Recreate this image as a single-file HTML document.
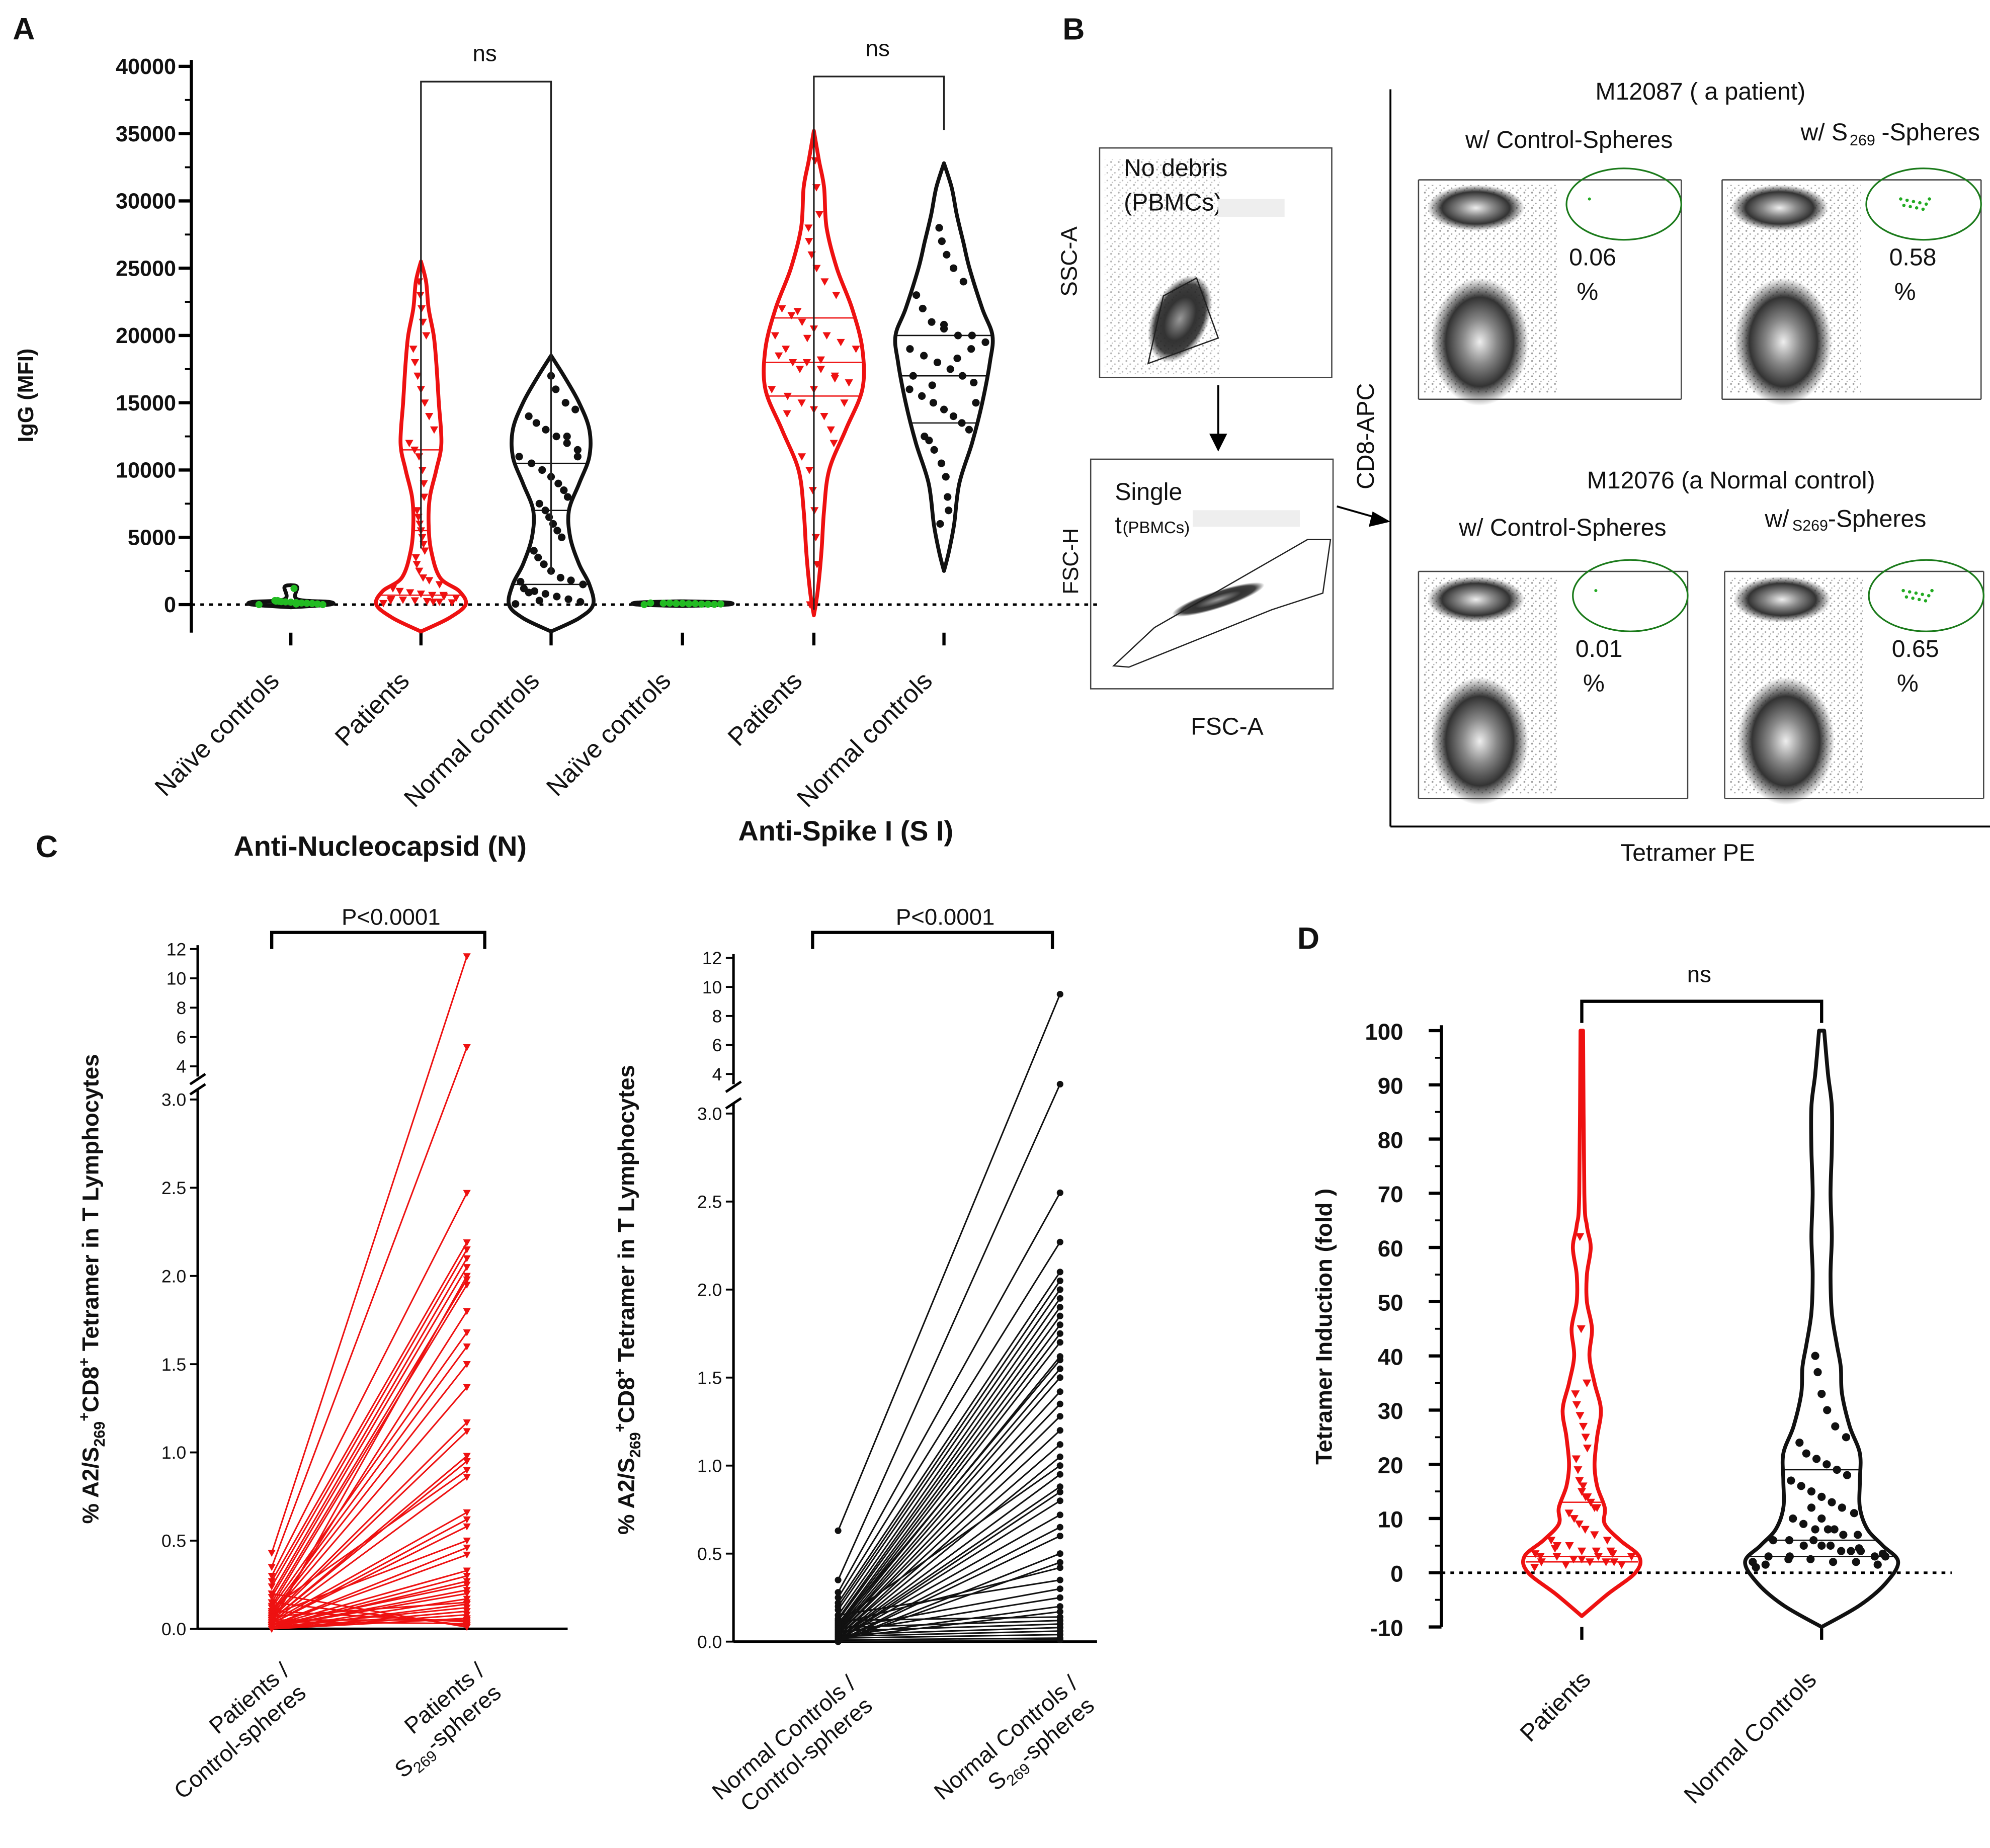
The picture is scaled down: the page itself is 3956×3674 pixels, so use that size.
<!DOCTYPE html>
<html><head><meta charset="utf-8">
<style>
html,body{margin:0;padding:0;background:#fff;}
svg{display:block;font-family:"Liberation Sans",Arial,sans-serif;}
</style></head>
<body>
<svg id="fig" xmlns="http://www.w3.org/2000/svg" width="3956" height="3674" viewBox="0 0 1560 1448.8">
<defs>
<radialGradient id="blob" cx="50%" cy="50%" r="50%">
<stop offset="0" stop-color="#eee"/><stop offset="0.35" stop-color="#888"/><stop offset="0.7" stop-color="#333"/><stop offset="1" stop-color="#333" stop-opacity="0"/>
</radialGradient>
<radialGradient id="blob2" cx="50%" cy="50%" r="50%">
<stop offset="0" stop-color="#999"/><stop offset="0.5" stop-color="#333"/><stop offset="0.8" stop-color="#111" stop-opacity="0.8"/><stop offset="1" stop-color="#111" stop-opacity="0"/>
</radialGradient>
<pattern id="dots" width="6" height="6" patternUnits="userSpaceOnUse">
<circle cx="1" cy="1" r="0.7" fill="#222"/><circle cx="4" cy="3.5" r="0.6" fill="#333"/><circle cx="2" cy="5" r="0.5" fill="#444"/>
</pattern>
</defs>
<g id="root"></g>
</svg>
<script>
// ---------- Panel A data ----------
const aCategories = ["Naïve controls","Patients","Normal controls","Naïve controls","Patients","Normal controls"];
const aNaiveN = [0,50,100,150,200,250,300,0,80,120,180,220,260,300,1200,100,50];
const aPatientsN = [100,150,200,250,300,350,400,500,600,700,800,900,1000,1200,1500,1800,2000,2500,3000,3500,4000,4500,5000,5500,6000,6500,7000,8000,9000,10000,11000,11500,12000,13000,14000,15000,16000,17000,18000,19000,20000,21000,22000,23000,24000,300,500,700,200];
const aNormalN = [50,200,400,600,800,1000,1200,1500,1800,2000,2500,3000,3500,4000,5000,5500,6000,6500,7000,7500,8000,8500,9000,9500,10000,10500,11000,11500,12000,12500,13000,13500,14000,14500,15000,16000,17000,300,900,1700,11000,12500];
const aNaiveS = [0,20,40,60,80,100,120,50,30,70,90,110];
const aPatientsS = [0,3000,5000,7000,8500,10000,11000,12000,13000,14000,14500,15000,15500,16000,16500,17000,17500,18000,18000,18500,19000,19500,20000,20500,21000,21500,22000,23000,24000,25000,26000,27000,28000,29000,31000,33000,16000,17500,19000,20000,15000,16800,18200,19800,21800,14200];
const aNormalS = [6000,7000,8000,9500,10500,11500,12500,13000,13500,14000,14500,15000,15500,16000,16500,17000,17500,18000,18500,19000,19500,20000,20000,20500,21000,22000,23000,24000,25000,26000,27000,28000,17000,15000,19000,18300,20800,16300,12200];
const aDensity = [
 [[-200,0],[0,30],[200,30],[400,5],[1300,5],[1450,0]],
 [[-2000,0],[-1000,22],[0,35],[1000,30],[2000,15],[4000,8],[6000,6],[8000,7],[10000,12],[12000,16],[15000,14],[18000,12],[20000,10],[22000,6],[24000,4],[25500,0]],
 [[-2000,0],[-1000,22],[0,33],[1500,30],[3000,22],[5000,15],[7000,14],[9000,22],[11000,30],[13000,30],[15000,22],[17000,10],[18500,0]],
 [[-100,0],[0,35],[150,35],[250,0]],
 [[-800,0],[1000,3],[4000,6],[7000,8],[10000,12],[13000,25],[16000,38],[19000,38],[22000,30],[25000,18],[28000,10],[31000,8],[33000,4],[35200,0]],
 [[2500,0],[4000,4],[6000,8],[9000,12],[12000,22],[15000,30],[18000,36],[20000,38],[22000,30],[25000,20],[27000,15],[29000,10],[31000,6],[32800,0]]
];
const aQuartiles = [[0,100,200],[700,5500,11500],[1500,7000,10500],[50,80,120],[15500,18000,21300],[13500,17000,20000]];
const aTicks = [0,5000,10000,15000,20000,25000,30000,35000,40000];

// ---------- Panel C data ----------
const cPatientsControl = [0.43,0.35,0.3,0.27,0.24,0.2,0.18,0.15,0.13,0.12,0.1,0.09,0.08,0.07,0.06,0.05,0.05,0.04,0.04,0.03,0.03,0.02,0.02,0.02,0.01,0.01,0.01,0.01,0.0,0.0,0.0,0.0,0.05,0.1,0.15,0.2,0.03,0.06,0.08,0.02,0.01,0.0,0.04,0.07,0.12];
const cPatientsS269 = [11.5,5.3,2.47,2.19,2.15,2.1,2.05,1.98,1.95,1.68,1.6,1.5,1.37,1.17,1.12,0.98,0.95,0.86,0.66,0.62,0.58,0.46,0.42,0.33,0.3,0.27,0.22,0.2,0.17,0.14,0.1,0.08,0.05,0.04,0.02,0.01,2.0,1.8,0.5,0.25,0.12,0.06,0.03,0.15,0.9];
const cNormalControl = [0.63,0.35,0.28,0.25,0.22,0.2,0.18,0.15,0.13,0.12,0.1,0.09,0.08,0.07,0.06,0.05,0.05,0.04,0.04,0.03,0.03,0.02,0.02,0.02,0.01,0.01,0.01,0.0,0.0,0.0,0.0,0.1,0.15,0.07,0.05,0.03,0.02,0.12,0.08,0.06,0.04,0.03,0.02,0.01,0.0,0.09,0.11];
const cNormalS269 = [9.5,3.3,2.55,2.27,2.1,2.05,2.0,1.95,1.9,1.85,1.8,1.75,1.7,1.62,1.55,1.5,1.42,1.35,1.28,1.2,1.12,1.05,0.95,0.88,0.85,0.8,0.72,0.65,0.6,0.5,0.45,0.42,0.35,0.3,0.25,0.2,0.17,0.14,0.12,0.1,0.08,0.06,0.04,0.02,0.01,1.6,1.0];
const cTicksLow = [0,0.5,1.0,1.5,2.0,2.5,3.0];
const cTicksHigh = [4,6,8,10,12];

// ---------- Panel D data ----------
const dPatients = [1,1.5,2,2,2.5,3,3,3,3.5,4,4,5,5,6,6,7,8,9,10,11,12,13,14,15,17,19,21,23,25,27,29,31,33,35,2,3,2.5,1.5,4.5,3.5,12,14,16,45,62,2,3,4];
const dNormal = [1,1.5,2,2,2.5,3,3,3.5,4,4,5,5,6,6,7,7,8,8,9,10,11,12,13,14,15,16,17,18,19,20,21,22,24,25,27,30,33,37,40,2,3,4,5,6,2.5,1.5,3,4.5,8,10,12];
const dDensity = [
 [[-8,0],[-4,20],[0,42],[3,45],[6,30],[9,18],[12,18],[16,12],[20,10],[25,12],[30,15],[35,10],[40,6],[45,8],[50,4],[55,4],[60,7],[64,4],[70,2],[100,1]],
 [[-10,0],[-6,30],[-2,50],[2,60],[5,48],[8,36],[12,30],[17,30],[22,30],[27,22],[33,16],[38,15],[42,12],[48,8],[55,7],[62,8],[70,7],[78,8],[86,8],[92,5],[100,2]]
];
const dQuartiles = [[2,3,13],[3,6,19]];
const dTicks = [-10,0,10,20,30,40,50,60,70,80,90,100];

const NS="http://www.w3.org/2000/svg";
const root=document.getElementById('root');
function el(tag,attrs,parent,txt){const e=document.createElementNS(NS,tag);for(const k in attrs)e.setAttribute(k,attrs[k]);if(txt!==undefined)e.textContent=txt;(parent||root).appendChild(e);return e;}
function txt(x,y,s,size,opts,parent){opts=opts||{};const a={x:x,y:y,'font-size':size,fill:'#111'};if(opts.anchor)a['text-anchor']=opts.anchor;if(opts.bold)a['font-weight']='bold';if(opts.rot!==undefined)a.transform='rotate('+opts.rot+' '+x+' '+y+')';return el('text',a,parent,s);}
function jit(i){return ((i*37)%13-6)/6;}
function widthAt(dens,v){for(let k=0;k<dens.length-1;k++){if(v>=dens[k][0]&&v<=dens[k+1][0]){const t=(v-dens[k][0])/(dens[k+1][0]-dens[k][0]||1);return dens[k][1]+t*(dens[k+1][1]-dens[k][1]);}}return 2;}
function smooth(pts){let d='M'+pts[0][0].toFixed(1)+','+pts[0][1].toFixed(1);
 for(let i=0;i<pts.length-1;i++){const p0=pts[Math.max(0,i-1)],p1=pts[i],p2=pts[i+1],p3=pts[Math.min(pts.length-1,i+2)];
  const c1=[p1[0]+(p2[0]-p0[0])/6,p1[1]+(p2[1]-p0[1])/6],c2=[p2[0]-(p3[0]-p1[0])/6,p2[1]-(p3[1]-p1[1])/6];
  d+='C'+c1[0].toFixed(1)+','+c1[1].toFixed(1)+' '+c2[0].toFixed(1)+','+c2[1].toFixed(1)+' '+p2[0].toFixed(1)+','+p2[1].toFixed(1);}
 return d;}
function violin(g,cx,dens,yf,color,name){
 let left=dens.map(d=>[cx-d[1],yf(d[0])]);let right=dens.slice().reverse().map(d=>[cx+d[1],yf(d[0])]);
 const p=el('path',{d:smooth(left)+smooth(right).replace('M','L')+'Z',fill:'none',stroke:color,'stroke-width':3,'stroke-linejoin':'round'},g);
 
 
}
function quart(g,cx,dens,qs,yf,color){qs.forEach(q=>{const w=widthAt(dens,q);const l=el('line',{x1:cx-w,x2:cx+w,y1:yf(q),y2:yf(q),stroke:color,'stroke-width':1},g);});}
function tri(g,x,y,s,c){const p=el('path',{d:`M${x-s},${y-s*0.8}L${x+s},${y-s*0.8}L${x},${y+s}Z`,fill:c},g);}
function dot(g,x,y,r,c){const p=el('circle',{cx:x,cy:y,r:r,fill:c},g);}

// ================= Panel A =================
const gA=el('g',{});
txt(10,31,'A',24,{bold:true},gA);
const yA=v=>474-v*(422/40000);
const xA=[228,330,432,535,638,740];
el('line',{x1:150,y1:47,x2:150,y2:496,stroke:'#000','stroke-width':2.5},gA);
aTicks.forEach(t=>{el('line',{x1:140,x2:150,y1:yA(t),y2:yA(t),stroke:'#000','stroke-width':2.5},gA);if(t<40000)el('line',{x1:145,x2:150,y1:yA(t+2500),y2:yA(t+2500),stroke:'#000','stroke-width':1.5},gA);const tt=txt(138,yA(t)+6,String(t),17,{anchor:'end',bold:true},gA);});
el('line',{x1:150,x2:860,y1:yA(0),y2:yA(0),stroke:'#000','stroke-width':2,'stroke-dasharray':'3,4'},gA);
xA.forEach(x=>el('line',{x1:x,x2:x,y1:496,y2:506,stroke:'#000','stroke-width':2.5},gA));
const yt=txt(26,310,'IgG (MFI)',17,{anchor:'middle',bold:true,rot:-90},gA);
const aSeries=[aNaiveN,aPatientsN,aNormalN,aNaiveS,aPatientsS,aNormalS];
const aColors=['#22bb22','#ee1111','#111','#22bb22','#ee1111','#111'];
const aLineColors=['#111','#ee1111','#111','#111','#ee1111','#111'];
aSeries.forEach((vals,i)=>{
 violin(gA,xA[i],aDensity[i],yA,aLineColors[i],'violin-'+i);
 quart(gA,xA[i],aDensity[i],aQuartiles[i],yA,aLineColors[i]);
 vals.forEach((v,j)=>{const w=Math.max(3,widthAt(aDensity[i],v)-5);const x=xA[i]+jit(j)*w;
  if(aColors[i]==='#ee1111')tri(gA,x,yA(v),3.2,'#ee1111');else if(i===0||i===3)dot(gA,x,yA(v),2.8,'#22bb22');else dot(gA,x,yA(v),3,'#111');});
 const lab=txt(xA[i]-8,535,aCategories[i],20,{anchor:'end',rot:-45},gA);
});
el('path',{d:'M330,430V64H432V450',fill:'none',stroke:'#222','stroke-width':1.3},gA);
el('path',{d:'M638,478V60H740V102',fill:'none',stroke:'#222','stroke-width':1.3},gA);
txt(380,48,'ns',18,{anchor:'middle'},gA);txt(688,44,'ns',18,{anchor:'middle'},gA);
txt(298,671,'Anti-Nucleocapsid (N)',22,{anchor:'middle',bold:true},gA);
txt(663,659,'Anti-Spike I (S I)',22,{anchor:'middle',bold:true},gA);

// ================= Panel B =================
const gB=el('g',{});
txt(833,31,'B',24,{bold:true},gB);
el('rect',{x:862,y:116,width:182,height:180,fill:'none',stroke:'#444','stroke-width':1},gB);
el('rect',{x:866,y:125,width:90,height:168,fill:'url(#dots)',opacity:0.35},gB);
el('ellipse',{cx:925,cy:250,rx:22,ry:36,fill:'url(#blob2)',transform:'rotate(25 925 250)'},gB);
el('path',{d:'M900,285L912,232L938,218L955,265Z',fill:'none',stroke:'#222','stroke-width':1},gB);
txt(881,138,'No debris',19,{},gB);txt(881,165,'(PBMCs)',19,{},gB);
el('rect',{x:955,y:156,width:52,height:14,fill:'#eee'},gB);
txt(844,205,'SSC-A',18,{anchor:'middle',rot:-90},gB);
el('line',{x1:955,y1:302,x2:955,y2:345,stroke:'#000','stroke-width':1.5},gB);
el('path',{d:'M948,340L962,340L955,354Z',fill:'#000'},gB);
el('rect',{x:855,y:360,width:190,height:180,fill:'none',stroke:'#444','stroke-width':1},gB);
el('ellipse',{cx:955,cy:470,rx:38,ry:7,fill:'url(#blob2)',transform:'rotate(-18 955 470)'},gB);
el('path',{d:'M873,522L905,492L1025,423L1043,423L1037,465L997,478L885,523Z',fill:'none',stroke:'#222','stroke-width':1},gB);
txt(874,392,'Single',19,{},gB);txt(874,418,'t',19,{},gB);txt(880,418,'(PBMCs)',13,{},gB);
el('rect',{x:935,y:400,width:84,height:13,fill:'#eee'},gB);
txt(845,440,'FSC-H',17,{anchor:'middle',rot:-90},gB);
txt(962,576,'FSC-A',19,{anchor:'middle'},gB);
el('line',{x1:1048,y1:397,x2:1083,y2:407,stroke:'#000','stroke-width':1.5},gB);
el('path',{d:'M1090,409L1076,401L1073,413Z',fill:'#000'},gB);
el('line',{x1:1090,y1:70,x2:1090,y2:648,stroke:'#000','stroke-width':1.5},gB);
el('line',{x1:1090,y1:648,x2:1560,y2:648,stroke:'#000','stroke-width':1.5},gB);
txt(1077,342,'CD8-APC',19,{anchor:'middle',rot:-90},gB);
txt(1323,675,'Tetramer PE',19,{anchor:'middle'},gB);
txt(1333,78,'M12087 ( a patient)',19,{anchor:'middle'},gB);
txt(1357,383,'M12076 (a Normal control)',19,{anchor:'middle'},gB);
txt(1230,116,'w/ Control-Spheres',19,{anchor:'middle'},gB);
txt(1430,110,'w/ S',19,{anchor:'middle'},gB);txt(1450,114,'269',12,{},gB);txt(1475,110,'-Spheres',19,{},gB);
txt(1225,420,'w/ Control-Spheres',19,{anchor:'middle'},gB);
txt(1393,413,'w/',19,{anchor:'middle'},gB);txt(1405,416,'S269',12,{},gB);txt(1433,413,'-Spheres',19,{},gB);
const flows=[[1112,123,206,190,'0.06'],[1350,123,203,190,'0.58'],[1112,430,211,196,'0.01'],[1352,430,203,196,'0.65']];
flows.forEach((f,i)=>{const [x,y,w,h,pct]=f;
 el('line',{x1:x,y1:y+18,x2:x,y2:y+h,stroke:'#444','stroke-width':1},gB);
 el('line',{x1:x,y1:y+h,x2:x+w,y2:y+h,stroke:'#444','stroke-width':1},gB);
 el('line',{x1:x+w,y1:y+18,x2:x+w,y2:y+h,stroke:'#444','stroke-width':1},gB);
 el('line',{x1:x,y1:y+18,x2:x+w,y2:y+18,stroke:'#444','stroke-width':1},gB);
 el('rect',{x:x+4,y:y+22,width:105,height:h-26,fill:'url(#dots)',opacity:0.45},gB);
 el('ellipse',{cx:x+45,cy:y+40,rx:38,ry:18,fill:'url(#blob)'},gB);
 el('ellipse',{cx:x+48,cy:y+h-45,rx:38,ry:50,fill:'url(#blob)'},gB);
 el('ellipse',{cx:x+w-45,cy:y+37,rx:45,ry:28,fill:'none',stroke:'#1a7a1a','stroke-width':1.3},gB);
 if(i%2===1){for(let k=0;k<10;k++)el('circle',{cx:x+w-63+k*2.5,cy:y+33+((k*5)%9),r:1.3,fill:'#2a2'},gB);}
 else el('circle',{cx:x+w-72,cy:y+33,r:1.2,fill:'#2a2'},gB);
 txt(x+w-(i%2?72:88),y+85,pct,19,{},gB);txt(x+w-(i%2?68:82),y+112,'%',19,{},gB);
});

// ================= Panel C =================
const gC=el('g',{});
txt(28,672,'C',24,{bold:true},gC);
function makePaired(cfg){
 const g=el('g',{},gC);
 const yf=v=>v<=3?cfg.y0-v*(cfg.y0-cfg.y3)/3:cfg.y4-(v-4)*(cfg.y4-cfg.y12)/8;
 el('line',{x1:cfg.ax,y1:cfg.y12-3,x2:cfg.ax,y2:cfg.y4+8,stroke:'#000','stroke-width':2},g);
 el('line',{x1:cfg.ax,y1:cfg.y3-8,x2:cfg.ax,y2:cfg.y0,stroke:'#000','stroke-width':2},g);
 el('line',{x1:cfg.ax-6,y1:cfg.y4+14,x2:cfg.ax+6,y2:cfg.y4+6,stroke:'#000','stroke-width':2},g);
 el('line',{x1:cfg.ax-6,y1:cfg.y3-4,x2:cfg.ax+6,y2:cfg.y3-12,stroke:'#000','stroke-width':2},g);
 el('line',{x1:cfg.ax,y1:cfg.y0,x2:cfg.xend,y2:cfg.y0,stroke:'#000','stroke-width':2},g);
 cTicksLow.forEach(t=>{el('line',{x1:cfg.ax-6,x2:cfg.ax,y1:yf(t),y2:yf(t),stroke:'#000','stroke-width':1.5},g);txt(cfg.ax-9,yf(t)+5,t===0?'0.0':t.toFixed(1),14,{anchor:'end'},g);});
 cTicksHigh.forEach(t=>{el('line',{x1:cfg.ax-6,x2:cfg.ax,y1:yf(t),y2:yf(t),stroke:'#000','stroke-width':1.5},g);txt(cfg.ax-9,yf(t)+5,String(t),14,{anchor:'end'},g);});
 const n=Math.min(cfg.a.length,cfg.b.length);
 for(let i=0;i<n;i++){const l=el('line',{x1:cfg.x1,y1:yf(cfg.a[i]),x2:cfg.x2,y2:yf(cfg.b[i]),stroke:cfg.color,'stroke-width':1.2},g);
  if(cfg.color==='#111'){dot(g,cfg.x1,yf(cfg.a[i]),2.6,'#111');dot(g,cfg.x2,yf(cfg.b[i]),2.6,'#111');}
  else{tri(g,cfg.x1,yf(cfg.a[i]),3,cfg.color);tri(g,cfg.x2,yf(cfg.b[i]),3,cfg.color);}}
 el('path',{d:`M${cfg.b1},${cfg.by+13}V${cfg.by}H${cfg.b2}V${cfg.by+13}`,fill:'none',stroke:'#000','stroke-width':2.5},g);
 txt((cfg.b1+cfg.b2)/2+10,cfg.by-6,'P<0.0001',18,{anchor:'middle'},g);
 const t=el('text',{x:cfg.ax-78,y:(cfg.y12+cfg.y0)/2,'font-size':18,'font-weight':'bold','text-anchor':'middle',fill:'#111',transform:`rotate(-90 ${cfg.ax-78} ${(cfg.y12+cfg.y0)/2})`},g);
 t.innerHTML='% A2/S<tspan font-size="12" dy="5">269</tspan><tspan dy="-12" font-size="12">+</tspan><tspan dy="7">CD8</tspan><tspan dy="-7" font-size="12">+</tspan><tspan dy="7"> Tetramer in T Lymphocytes</tspan>';
 
 cfg.labels.forEach((lb,k)=>{const x=k?cfg.x2:cfg.x1;
  txt(x+15,cfg.y0+35,lb[0],18,{anchor:'end',rot:-40},g);
  const t2=el('text',{x:x+28,y:cfg.y0+52,'font-size':18,'text-anchor':'end',fill:'#111',transform:`rotate(-40 ${x+28} ${cfg.y0+52})`},g);
  t2.innerHTML=lb[1];});
}
makePaired({name:'patients-paired-chart',ax:155,y0:1277,y3:862,y4:836,y12:744,xend:445,x1:213,x2:366,a:cPatientsControl,b:cPatientsS269,color:'#ee1111',b1:213,b2:380,by:731,
 labels:[['Patients /','Control-spheres'],['Patients /','S<tspan font-size="12" dy="5">269</tspan><tspan dy="-5">-spheres</tspan>']]});
makePaired({name:'normal-controls-paired-chart',ax:575,y0:1287,y3:873,y4:842,y12:751,xend:860,x1:657,x2:831,a:cNormalControl,b:cNormalS269,color:'#111',b1:637,b2:825,by:731,
 labels:[['Normal Controls /','Control-spheres'],['Normal Controls /','S<tspan font-size="12" dy="5">269</tspan><tspan dy="-5">-spheres</tspan>']]});

// ================= Panel D =================
const gD=el('g',{});
txt(1017,744,'D',24,{bold:true},gD);
const yD=v=>1233-v*4.25;
const xD=[1240,1428];
el('line',{x1:1130,y1:yD(101),x2:1130,y2:yD(-10),stroke:'#000','stroke-width':2.5},gD);
el('line',{x1:1130,x2:1530,y1:yD(0),y2:yD(0),stroke:'#000','stroke-width':2,'stroke-dasharray':'3,4'},gD);
dTicks.forEach(t=>{el('line',{x1:1120,x2:1130,y1:yD(t),y2:yD(t),stroke:'#000','stroke-width':2.5},gD);if(t<100)el('line',{x1:1125,x2:1130,y1:yD(t+5),y2:yD(t+5),stroke:'#000','stroke-width':1.5},gD);txt(1100,yD(t)+7,String(t),18,{anchor:'end',bold:true},gD);});
xD.forEach(x=>el('line',{x1:x,x2:x,y1:yD(-10),y2:yD(-10)+10,stroke:'#000','stroke-width':2.5},gD));
txt(1044,1040,'Tetramer Induction (fold  )',18,{anchor:'middle',bold:true,rot:-90},gD);
[dPatients,dNormal].forEach((vals,i)=>{const c=i?'#111':'#ee1111';
 violin(gD,xD[i],dDensity[i],yD,c,i?'violin-normal-controls':'violin-patients');
 quart(gD,xD[i],dDensity[i],dQuartiles[i],yD,c);
 vals.forEach((v,j)=>{const w=Math.max(3,widthAt(dDensity[i],v)-6);const x=xD[i]+jit(j)*w;if(i)dot(gD,x,yD(v),3.2,'#111');else tri(gD,x,yD(v),3.4,'#ee1111');});
});
el('path',{d:'M1240,802V785H1428V802',fill:'none',stroke:'#000','stroke-width':2.5},gD);
txt(1332,770,'ns',18,{anchor:'middle'},gD);
txt(1248,1318,'Patients',19,{anchor:'end',rot:-45},gD);
txt(1425,1318,'Normal Controls',19,{anchor:'end',rot:-45},gD);
</script>
</body></html>
